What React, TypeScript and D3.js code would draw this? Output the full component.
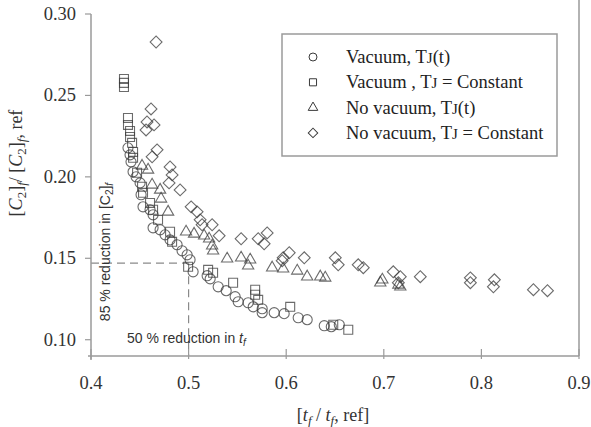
import React from "react";
import * as d3 from "d3";

// Vacuum, TJ(t)  -> circles
const vacuumTjt: [number, number][] = [
  [0.4379, 0.2178], [0.44, 0.2135], [0.441, 0.2092], [0.4431, 0.2031], [0.4462, 0.2],
  [0.4503, 0.1963], [0.4513, 0.189], [0.4533, 0.1816], [0.4605, 0.1798], [0.4636, 0.1767],
  [0.4636, 0.1687], [0.4708, 0.1675], [0.4759, 0.1644], [0.481, 0.1613], [0.4882, 0.1583],
  [0.4933, 0.1546], [0.4985, 0.1521], [0.5015, 0.1491], [0.5046, 0.1417], [0.519, 0.1393],
  [0.5221, 0.1374], [0.5303, 0.1325], [0.5385, 0.1301], [0.5477, 0.1264], [0.5508, 0.1233],
  [0.561, 0.1227], [0.5662, 0.1202], [0.5754, 0.119], [0.5754, 0.1166], [0.5877, 0.1166],
  [0.5979, 0.116], [0.6123, 0.1135], [0.6215, 0.1123], [0.639, 0.1086], [0.6462, 0.108],
  [0.6544, 0.1092],
];

// Vacuum, TJ = Constant -> squares
const vacuumConst: [number, number][] = [
  [0.4338, 0.2601], [0.4338, 0.2577], [0.4338, 0.2552], [0.4379, 0.2362], [0.4379, 0.2319],
  [0.44, 0.2282], [0.44, 0.2245], [0.4421, 0.2209], [0.4431, 0.2153], [0.4431, 0.2117],
  [0.4472, 0.2025], [0.4523, 0.1939], [0.4533, 0.1902], [0.4605, 0.184], [0.4636, 0.1798],
  [0.4687, 0.1736], [0.481, 0.1663], [0.4831, 0.1601], [0.4995, 0.1448], [0.52, 0.1429],
  [0.5251, 0.1411], [0.5456, 0.135], [0.5682, 0.1307], [0.5682, 0.1276], [0.5713, 0.1245],
  [0.6041, 0.1202], [0.6482, 0.1092], [0.6636, 0.1061],
];

// No vacuum, TJ(t) -> triangles
const noVacuumTjt: [number, number][] = [
  [0.4523, 0.2067], [0.4585, 0.2043], [0.4626, 0.1951], [0.4708, 0.192], [0.4718, 0.1865],
  [0.479, 0.1785], [0.4974, 0.1663], [0.5056, 0.165], [0.5159, 0.1638], [0.521, 0.162],
  [0.5241, 0.1577], [0.5251, 0.1546], [0.5395, 0.1497], [0.5538, 0.1503], [0.5631, 0.1491],
  [0.561, 0.1454], [0.5856, 0.1442], [0.5969, 0.1436], [0.6113, 0.1423], [0.6215, 0.1387],
  [0.6349, 0.1387], [0.64, 0.138], [0.6964, 0.135], [0.6985, 0.1368], [0.7149, 0.1337],
  [0.7169, 0.1325],
];

// No vacuum, TJ = Constant -> diamonds
const noVacuumConst: [number, number][] = [
  [0.4667, 0.2828], [0.4615, 0.2417], [0.4574, 0.2337], [0.4646, 0.2319], [0.4564, 0.2288],
  [0.4677, 0.2166], [0.4626, 0.2123], [0.481, 0.2061], [0.4831, 0.2012], [0.48, 0.1963],
  [0.4913, 0.192], [0.5026, 0.1816], [0.5087, 0.1785], [0.5118, 0.1736], [0.5138, 0.1706],
  [0.5241, 0.1706], [0.5313, 0.1638], [0.5538, 0.162], [0.5713, 0.162], [0.5805, 0.1656],
  [0.5774, 0.1589], [0.5969, 0.1503], [0.6031, 0.1534], [0.5959, 0.1485], [0.6185, 0.1503],
  [0.6503, 0.1503], [0.6533, 0.146], [0.6738, 0.146], [0.679, 0.1442], [0.7097, 0.1417],
  [0.7169, 0.1387], [0.7149, 0.135], [0.7374, 0.1387], [0.7887, 0.138], [0.7887, 0.135],
  [0.8133, 0.1368], [0.8123, 0.1325], [0.8533, 0.1307], [0.8677, 0.1301],
];

const xTicks = [0.4, 0.5, 0.6, 0.7, 0.8, 0.9];
const yTicks = [0.1, 0.15, 0.2, 0.25, 0.3];
const refPoint: [number, number] = [0.5, 0.147];

const legendLabels = ["Vacuum, T", "Vacuum , T", "No vacuum, T", "No vacuum, T"];
const legendSuffix = ["(t)", " = Constant", "(t)", " = Constant"];

const SERIF = "'Liberation Serif', 'Times New Roman', serif";
const SANS = "'Liberation Sans', Arial, sans-serif";

export default function App() {
  const W = 591, H = 427;
  const x = d3.scaleLinear().domain([0.4, 0.9]).range([91, 579]);
  const y = d3.scaleLinear().domain([0.09, 0.3]).range([356, 14]);

  const circle = d3.symbol().type(d3.symbolCircle).size(80)()!;
  const square = d3.symbol().type(d3.symbolSquare).size(80)()!;
  const tri = d3.symbol().type(d3.symbolTriangle).size(55)()!;
  const diamond = d3.symbol().type(d3.symbolSquare).size(70)()!;

  const lCircle = d3.symbol().type(d3.symbolCircle).size(50)()!;
  const lSquare = d3.symbol().type(d3.symbolSquare).size(50)()!;
  const lTri = d3.symbol().type(d3.symbolTriangle).size(40)()!;
  const lDiamond = d3.symbol().type(d3.symbolSquare).size(45)()!;

  const series = [
    { data: vacuumTjt, path: circle, rot: 0 },
    { data: vacuumConst, path: square, rot: 0 },
    { data: noVacuumTjt, path: tri, rot: 0 },
    { data: noVacuumConst, path: diamond, rot: 45 },
  ];
  const legendPaths = [
    { path: lCircle, rot: 0 },
    { path: lSquare, rot: 0 },
    { path: lTri, rot: 0 },
    { path: lDiamond, rot: 45 },
  ];

  const axisColor = "#9a9a9a";
  const markColor = "#3a3a3a";
  const x0 = x(0.4), x1 = x(0.9), yb = y(0.09), yt = y(0.3);

  return (
    <svg width={W} height={H} style={{ position: "absolute", left: 0, top: 0, background: "#fff" }}>
      <rect width={W} height={H} fill="#fff" />
      {/* dashed reference lines */}
      <line x1={x0} x2={x(refPoint[0])} y1={y(refPoint[1])} y2={y(refPoint[1])} stroke="#8a8a8a" strokeWidth={1.2} strokeDasharray="8,5" />
      <line x1={x(refPoint[0])} x2={x(refPoint[0])} y1={y(refPoint[1])} y2={yb} stroke="#8a8a8a" strokeWidth={1.2} strokeDasharray="8,5" />

      {/* data */}
      {series.map((s, i) => (
        <g key={i}>
          {s.data.map((d, j) => (
            <path key={j} d={s.path} transform={`translate(${x(d[0])},${y(d[1])}) rotate(${s.rot})`}
              fill="none" stroke={markColor} strokeOpacity={0.75} strokeWidth={1.1} />
          ))}
        </g>
      ))}

      {/* axes */}
      <line x1={x0} x2={x0} y1={yt} y2={yb + 4} stroke={axisColor} strokeWidth={1.5} />
      <line x1={x0 - 3} x2={x1} y1={yb} y2={yb} stroke={axisColor} strokeWidth={1.5} />
      <line x1={x1} x2={x1} y1={0} y2={yb} stroke={axisColor} strokeWidth={1.5} />
      {yTicks.map((t) => (
        <g key={t}>
          <line x1={x0 - 6} x2={x0} y1={y(t)} y2={y(t)} stroke={axisColor} strokeWidth={1.2} />
          <text x={x0 - 15} y={y(t) + 6} textAnchor="end" fontFamily={SERIF} fontSize={18.5} fill="#333">{t.toFixed(2)}</text>
        </g>
      ))}
      {xTicks.map((t) => (
        <g key={t}>
          <line x1={x(t)} x2={x(t)} y1={yb - 7} y2={yb + 3} stroke={axisColor} strokeWidth={1.2} />
          <text x={x(t)} y={yb + 33} textAnchor="middle" fontFamily={SERIF} fontSize={18.5} fill="#333">{t.toFixed(1)}</text>
        </g>
      ))}

      {/* annotations */}
      <text transform={`translate(110,252) rotate(-90)`} textAnchor="middle" fontFamily={SANS} fontSize={14} fill="#333">
        85 % reduction in [C<tspan fontSize={10} dy={3}>2</tspan><tspan dy={-3}>]</tspan><tspan fontStyle="italic" fontSize={10} dy={3}>f</tspan>
      </text>
      <text x={127} y={343} fontFamily={SANS} fontSize={14} fill="#333">
        50 % reduction in <tspan fontStyle="italic">t</tspan><tspan fontStyle="italic" fontSize={10} dy={3}>f</tspan>
      </text>

      {/* axis titles */}
      <text transform={`translate(22,163) rotate(-90)`} textAnchor="middle" fontFamily={SERIF} fontSize={18} fill="#333">
        [<tspan fontStyle="italic">C</tspan><tspan fontSize={13} dy={4}>2</tspan><tspan dy={-4}>]</tspan><tspan fontStyle="italic" fontSize={13} dy={4}>f</tspan><tspan dy={-4}>/ [</tspan><tspan fontStyle="italic">C</tspan><tspan fontSize={13} dy={4}>2</tspan><tspan dy={-4}>]</tspan><tspan fontStyle="italic" fontSize={13} dy={4}>f</tspan><tspan dy={-4}>, ref</tspan>
      </text>
      <text x={333} y={421} textAnchor="middle" fontFamily={SERIF} fontSize={18} fill="#333">
        [<tspan fontStyle="italic">t</tspan><tspan fontStyle="italic" fontSize={13} dy={4}>f</tspan><tspan dy={-4}> / </tspan><tspan fontStyle="italic">t</tspan><tspan fontStyle="italic" fontSize={13} dy={4}>f</tspan><tspan dy={-4}>, ref]</tspan>
      </text>

      {/* legend */}
      <rect x={282} y={34} width={275} height={122} fill="#fff" stroke={axisColor} strokeWidth={1.5} />
      {legendLabels.map((lab, i) => {
        const cy = 57 + i * 25.3;
        return (
          <g key={i}>
            <path d={legendPaths[i].path} transform={`translate(313,${cy}) rotate(${legendPaths[i].rot})`} fill="none" stroke={markColor} strokeWidth={1} />
            <text x={346} y={cy + 6} fontFamily={SERIF} fontSize={18.5} fill="#222">
              {lab}<tspan fontSize={15}>J</tspan>{legendSuffix[i]}
            </text>
          </g>
        );
      })}
    </svg>
  );
}
